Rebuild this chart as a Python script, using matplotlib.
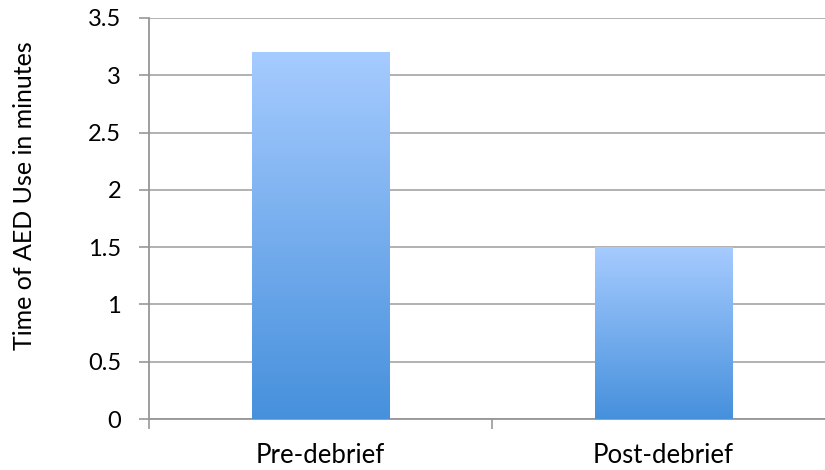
import matplotlib.pyplot as plt
import numpy as np
from matplotlib.colors import LinearSegmentedColormap

categories = ['Pre-debrief', 'Post-debrief']
aed_minutes = [3.2, 1.5]
y_ticks = [0, 0.5, 1, 1.5, 2, 2.5, 3, 3.5]
y_tick_labels = ['0', '0.5', '1', '1.5', '2', '2.5', '3', '3.5']

plt.rcParams['font.family'] = ['Lato', 'DejaVu Sans']

fig = plt.figure(figsize=(8.25, 4.7), dpi=100)
# axes run slightly past the right edge of the figure
ax = fig.add_axes([149 / 825, 51 / 470, 686 / 825, 401 / 470])

x = np.arange(len(categories))
bars = ax.bar(x, aed_minutes, width=0.4, color='none', edgecolor='none', zorder=3)

# vertical blue gradient inside each bar
blue_grad = LinearSegmentedColormap.from_list('blue_grad', ['#4690dc', '#a6cbff'])
grad = np.linspace(0, 1, 256).reshape(-1, 1)
for bar in bars:
    x0, y0 = bar.get_x(), bar.get_y()
    im = ax.imshow(grad, cmap=blue_grad, origin='lower', aspect='auto',
                   extent=[x0, x0 + bar.get_width(), y0, y0 + bar.get_height()],
                   zorder=3, interpolation='bilinear')
    im.set_clip_path(bar)

ax.set_xlim(-0.5, 1.5)
ax.set_ylim(0, 3.5)
ax.set_yticks(y_ticks)
ax.set_yticklabels(y_tick_labels)
ax.yaxis.grid(True, color='#ababab', linewidth=1.3, zorder=0)

# category ticks sit between the bars
ax.set_xticks([-0.5, 0.5, 1.5])
ax.set_xticklabels([])
ax.set_xticks(x, minor=True)
ax.set_xticklabels(categories, minor=True)
ax.tick_params(axis='x', which='minor', length=0, pad=17, labelsize=18.5)
ax.tick_params(axis='x', which='major', length=7, width=1.3, color='#a0a0a0', direction='out')
ax.tick_params(axis='y', length=7, width=1.3, color='#a0a0a0', labelsize=17, pad=13)

for side in ['top', 'right']:
    ax.spines[side].set_visible(False)
for side in ['left', 'bottom']:
    ax.spines[side].set_color('#969696')
    ax.spines[side].set_linewidth(1.3)

ax.set_ylabel('Time of AED Use in minutes', fontsize=18, va='center')
ax.yaxis.set_label_coords(-0.182, 0.556)
ax.set_axisbelow(True)

plt.savefig('out.png', dpi=100)
plt.close(fig)
